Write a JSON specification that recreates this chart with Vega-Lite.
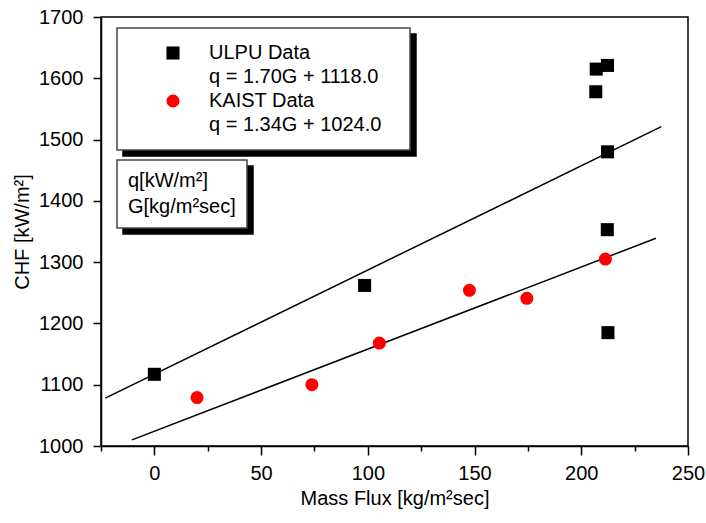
{
  "$schema": "https://vega.github.io/schema/vega-lite/v6.json",
  "width": 587,
  "height": 429,
  "autosize": {"type": "none"},
  "padding": {"left": 101, "top": 17, "right": 18, "bottom": 77},
  "background": "white",
  "config": {
    "font": "Liberation Sans",
    "view": {"stroke": "black", "strokeWidth": 1.5},
    "axis": {
      "domainColor": "black", "domainWidth": 1.5,
      "tickColor": "black", "tickWidth": 1.5,
      "labelColor": "black", "labelFontSize": 20, "labelFont": "Liberation Sans",
      "titleColor": "black", "titleFontSize": 20, "titleFont": "Liberation Sans", "titleFontWeight": "normal",
      "grid": false, "labelFlush": false, "labelOverlap": false
    },
    "legend": {"labelFont": "Liberation Sans", "labelFontSize": 20, "labelColor": "black", "labelLimit": 0, "strokeWidth": 1.5, "titleFontSize": 20, "titleFont": "Liberation Sans"}
  },
  "layer": [
    {
      "data": {"values": [
        {"series": "q = 1.70G + 1118.0", "G": -23, "CHF": 1078},
        {"series": "q = 1.70G + 1118.0", "G": 237.5, "CHF": 1521},
        {"series": "q = 1.34G + 1024.0", "G": -10.5, "CHF": 1010},
        {"series": "q = 1.34G + 1024.0", "G": 235, "CHF": 1339}
      ]},
      "mark": {"type": "line", "color": "black", "strokeWidth": 1.5},
      "encoding": {
        "x": {"field": "G", "type": "quantitative"},
        "y": {"field": "CHF", "type": "quantitative"},
        "detail": {"field": "series", "type": "nominal"},
        "opacity": {
          "field": "series", "type": "nominal",
          "scale": {"range": [1, 1, 1, 1]},
          "legend": {
            "title": "\u00a0", "titleOrient": "right", "titlePadding": 14,
            "orient": "none", "legendX": 22, "legendY": 17, "zindex": 0,
            "strokeColor": "black", "fillColor": "black",
            "padding": 15, "rowPadding": 4, "symbolOffset": 31, "labelOffset": 26,
            "symbolSize": 170, "symbolOpacity": 0, "symbolStrokeWidth": 0,
            "labelColor": "black", "labelOpacity": 0
          }
        }
      }
    },
    {
      "data": {"values": [
        {"series": "ULPU Data", "G": 0, "CHF": 1117},
        {"series": "ULPU Data", "G": 98.5, "CHF": 1262},
        {"series": "ULPU Data", "G": 207, "CHF": 1615},
        {"series": "ULPU Data", "G": 212.3, "CHF": 1621},
        {"series": "ULPU Data", "G": 206.8, "CHF": 1578},
        {"series": "ULPU Data", "G": 212.3, "CHF": 1480},
        {"series": "ULPU Data", "G": 212.2, "CHF": 1353},
        {"series": "ULPU Data", "G": 212.5, "CHF": 1185},
        {"series": "KAIST Data", "G": 20, "CHF": 1079},
        {"series": "KAIST Data", "G": 73.8, "CHF": 1100},
        {"series": "KAIST Data", "G": 105.4, "CHF": 1168},
        {"series": "KAIST Data", "G": 147.6, "CHF": 1254},
        {"series": "KAIST Data", "G": 174.5, "CHF": 1241},
        {"series": "KAIST Data", "G": 211.3, "CHF": 1305}
      ]},
      "mark": {"type": "point", "filled": true, "size": 170},
      "encoding": {
        "x": {
          "field": "G", "type": "quantitative",
          "scale": {"domain": [-25, 250], "nice": false, "zero": false},
          "axis": {
            "title": "Mass Flux [kg/m²sec]",
            "values": [-25, 0, 25, 50, 75, 100, 125, 150, 175, 200, 225, 250],
            "format": "d",
            "labelExpr": "datum.value % 50 === 0 ? datum.label : ''",
            "tickSize": {"condition": {"test": "datum.value % 50 === 0", "value": 9}, "value": 5},
            "labelPadding": 8,
            "titlePadding": 5
          }
        },
        "y": {
          "field": "CHF", "type": "quantitative",
          "scale": {"domain": [1000, 1700], "nice": false, "zero": false},
          "axis": {
            "title": "CHF [kW/m²]",
            "values": [1000, 1050, 1100, 1150, 1200, 1250, 1300, 1350, 1400, 1450, 1500, 1550, 1600, 1650, 1700],
            "format": "d",
            "labelExpr": "datum.value % 100 === 0 ? datum.label : ''",
            "tickSize": {"condition": {"test": "datum.value % 100 === 0", "value": 8}, "value": 5},
            "labelPadding": 10,
            "titlePadding": 6
          }
        },
        "opacity": {"field": "series", "type": "nominal"},
        "color": {
          "field": "series", "type": "nominal",
          "scale": {
            "domain": ["ULPU Data", "q = 1.70G + 1118.0", "KAIST Data", "q = 1.34G + 1024.0"],
            "range": ["black", "black", "red", "black"]
          },
          "legend": {
            "title": "\u00a0", "titleOrient": "right", "titlePadding": 14,
            "orient": "none", "legendX": 16, "legendY": 11, "zindex": 1,
            "strokeColor": "#444", "fillColor": "white",
            "padding": 15, "rowPadding": 4, "symbolOffset": 31, "labelOffset": 26,
            "symbolSize": 170, "symbolStrokeWidth": 0, "symbolOpacity": 1
          }
        },
        "shape": {
          "field": "series", "type": "nominal",
          "scale": {
            "domain": ["ULPU Data", "q = 1.70G + 1118.0", "KAIST Data", "q = 1.34G + 1024.0"],
            "range": ["square", "M0,0", "circle", "M0,0"]
          },
          "legend": {
            "title": "\u00a0", "titleOrient": "right", "titlePadding": 14,
            "orient": "none", "legendX": 16, "legendY": 11, "zindex": 1,
            "strokeColor": "#444", "fillColor": "white",
            "padding": 15, "rowPadding": 4, "symbolOffset": 31, "labelOffset": 26,
            "symbolSize": 170, "symbolStrokeWidth": 0, "symbolOpacity": 1
          }
        }
      }
    },
    {
      "data": {"values": [
        {"unit": "q[kW/m²]"},
        {"unit": "G[kg/m²sec]"}
      ]},
      "mark": {"type": "point", "opacity": 0},
      "encoding": {
        "strokeDash": {
          "field": "unit", "type": "nominal",
          "scale": {"domain": ["q[kW/m²]", "G[kg/m²sec]"]},
          "legend": {
            "title": null, "orient": "none", "legendX": 16, "legendY": 143, "zindex": 1,
            "strokeColor": "#444", "fillColor": "white",
            "padding": 11, "rowPadding": 5.7, "symbolOffset": 0, "labelOffset": -20,
            "symbolSize": 0, "symbolOpacity": 0, "symbolStrokeWidth": 0
          }
        },
        "fill": {
          "field": "unit", "type": "nominal",
          "scale": {"range": ["black", "black"]},
          "legend": {
            "title": null, "orient": "none", "legendX": 22, "legendY": 149, "zindex": 0,
            "strokeColor": "black", "fillColor": "black",
            "padding": 11, "rowPadding": 5.7, "symbolOffset": 0, "labelOffset": -20,
            "symbolSize": 0, "symbolOpacity": 0, "symbolStrokeWidth": 0, "labelOpacity": 0
          }
        }
      }
    }
  ]
}
